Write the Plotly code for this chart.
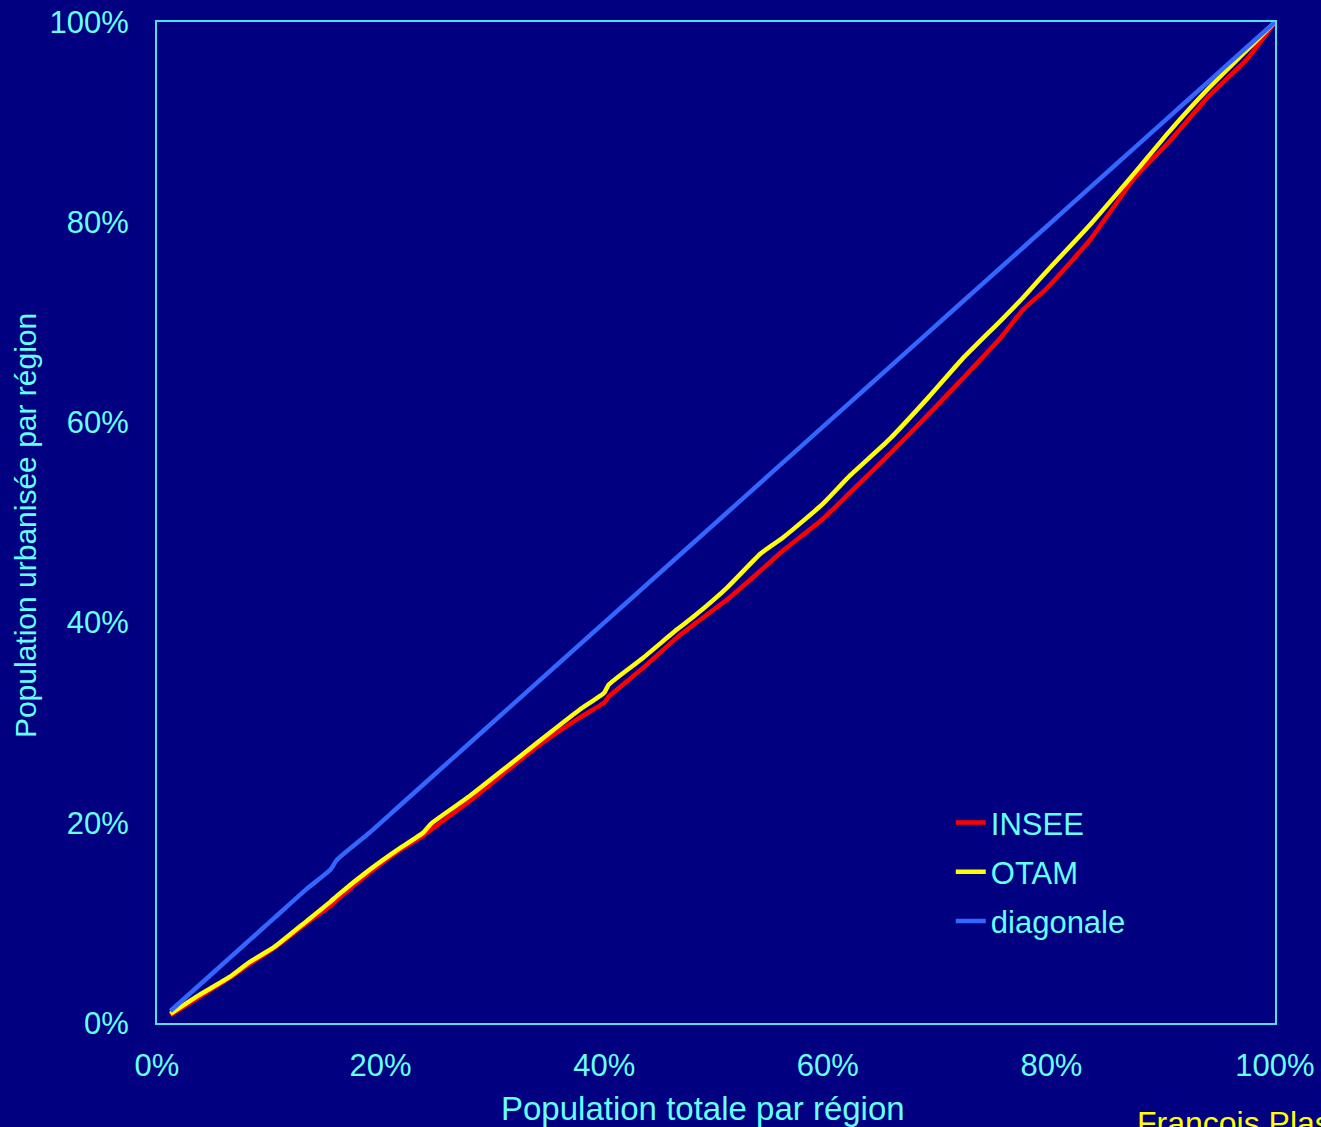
import plotly.graph_objects as go

# Cumulative share of total population (x, %)
pop_totale = [1.2, 3.5, 6.5, 8.3, 10.5, 13.4, 15.5, 16.1, 19.0, 21.5, 23.8, 24.5,
              28.0, 31.3, 34.0, 37.8, 40.0, 40.4, 43.5, 46.5, 48.0, 51.0, 54.0,
              56.0, 59.5, 62.0, 65.5, 69.0, 72.0, 75.5, 77.5, 79.5, 83.5, 87.5,
              90.5, 94.0, 97.5, 100.0]

# Cumulative share of urbanised population (y, %)
insee = [0.8, 2.4, 4.5, 5.9, 7.5, 10.0, 11.7, 12.3, 15.0, 17.1, 18.7, 19.3,
         22.2, 25.2, 27.6, 30.5, 32.0, 32.6, 35.5, 38.5, 39.8, 42.3, 45.2,
         47.2, 50.3, 53.0, 56.8, 60.8, 64.3, 68.5, 71.3, 73.3, 78.3, 84.5,
         88.0, 92.5, 96.3, 100.0]

otam = [0.9, 2.6, 4.6, 6.1, 7.6, 10.2, 12.1, 12.7, 15.3, 17.3, 19.0, 19.9,
        22.7, 25.6, 28.0, 31.3, 33.0, 33.8, 36.5, 39.3, 40.6, 43.5, 46.9,
        48.5, 51.8, 54.7, 58.3, 62.5, 66.3, 70.2, 72.5, 75.0, 79.8, 85.0,
        89.0, 93.3, 97.2, 100.0]

diagonale = [1.2, 3.5, 6.5, 8.3, 10.5, 13.4, 15.3, 16.3, 19.0, 21.5, 23.8, 24.5,
             28.0, 31.3, 34.0, 37.8, 40.0, 40.4, 43.5, 46.5, 48.0, 51.0, 54.0,
             56.0, 59.5, 62.0, 65.5, 69.0, 72.0, 75.5, 77.5, 79.5, 83.5, 87.5,
             90.5, 94.0, 97.5, 100.0]

tick_vals = [0, 20, 40, 60, 80, 100]
tick_text = ["0%", "20%", "40%", "60%", "80%", "100%"]

BG = "#000080"
TXT = "#66FFFF"
BORDER = "#4FE0F0"
FONT = "Liberation Sans, Arial, sans-serif"

fig = go.Figure()
fig.add_trace(go.Scatter(x=pop_totale, y=insee, mode="lines", name="INSEE",
                         legendgroup="g1",
                         line=dict(color="#FF0000", width=4.5, shape="spline", smoothing=0.5)))
fig.add_trace(go.Scatter(x=pop_totale, y=otam, mode="lines", name="OTAM",
                         legendgroup="g2",
                         line=dict(color="#FFFF00", width=4.5, shape="spline", smoothing=0.5)))
fig.add_trace(go.Scatter(x=pop_totale, y=diagonale, mode="lines", name="diagonale",
                         legendgroup="g3",
                         line=dict(color="#3366FF", width=4.5, shape="spline", smoothing=0.5)))

axis_common = dict(range=[0, 100], tickmode="array", tickvals=tick_vals, ticktext=tick_text,
                   showgrid=False, zeroline=False, showline=True, mirror=True,
                   linecolor=BORDER, linewidth=2, ticks="", automargin=False,
                   tickfont=dict(family=FONT, size=31, color=TXT))

fig.update_layout(
    width=1321, height=1127,
    paper_bgcolor=BG, plot_bgcolor=BG,
    margin=dict(l=157, r=46, t=22, b=104, autoexpand=False),
    font=dict(family=FONT, color=TXT),
    xaxis=dict(**axis_common, ticklabelstandoff=14),
    yaxis=dict(**axis_common, ticklabelstandoff=20),
    showlegend=True,
    legend=dict(x=0.710, y=0.227, xanchor="left", yanchor="top",
                traceorder="grouped", tracegroupgap=6,
                bgcolor="rgba(0,0,0,0)", borderwidth=0,
                font=dict(family=FONT, size=31, color=TXT)),
    annotations=[
        dict(text="Population totale par région", xref="paper", yref="paper",
             x=0.4884, y=-0.085, xanchor="center", yanchor="middle",
             showarrow=False, font=dict(family=FONT, size=33, color=TXT)),
        dict(text="Population urbanisée par région", xref="paper", yref="paper",
             x=-0.118, y=0.4965, xanchor="center", yanchor="middle", textangle=-90,
             showarrow=False, font=dict(family=FONT, size=30, color=TXT)),
        dict(text="Francois Plas", xref="paper", yref="paper",
             x=(1135 - 157) / 1118, y=-0.080, xanchor="left", yanchor="top",
             showarrow=False, font=dict(family=FONT, size=32, color="#FFFF00")),
    ],
)

fig.write_html("out.html", config={"displayModeBar": False},
               post_script="document.body.style.margin='0';document.body.style.background='#000080';")
